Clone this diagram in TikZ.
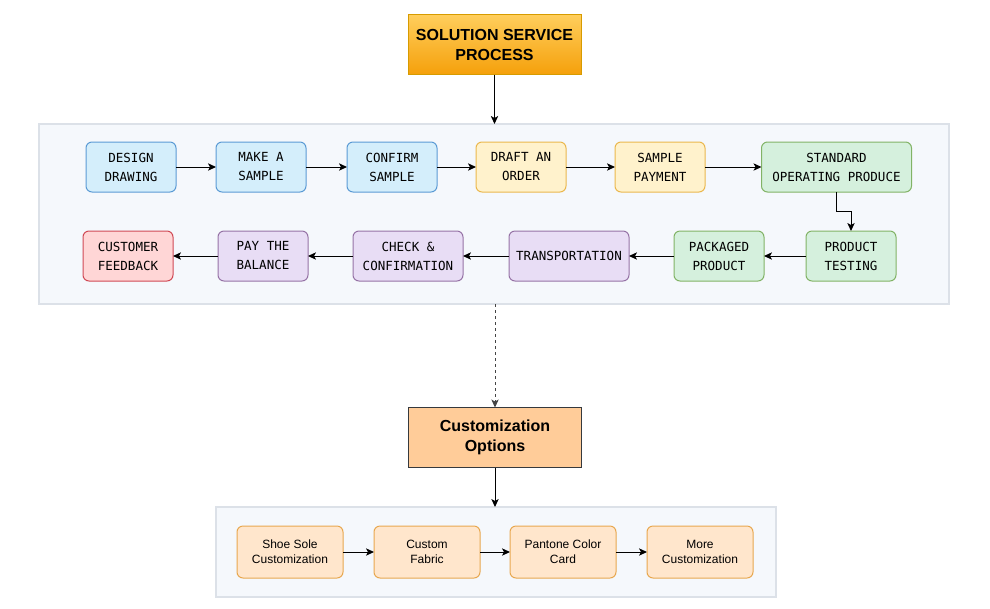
\documentclass[tikz,border=0pt]{standalone}
\usepackage{fontspec}
\setmainfont{Liberation Sans}
\newfontfamily\monof{DejaVu Sans Mono}
\usetikzlibrary{arrows.meta,calc,positioning}
\definecolor{contfill}{HTML}{F5F8FC}
\definecolor{contdraw}{HTML}{DCE1E8}
\definecolor{bluef}{HTML}{D4EEFB}
\definecolor{blued}{HTML}{5B9BD5}
\definecolor{yelf}{HTML}{FFF2CC}
\definecolor{yeld}{HTML}{EBB84E}
\definecolor{grnf}{HTML}{D5F0DD}
\definecolor{grnd}{HTML}{82B366}
\definecolor{purf}{HTML}{E8DDF5}
\definecolor{purd}{HTML}{9673A6}
\definecolor{redf}{HTML}{FFD6D6}
\definecolor{redd}{HTML}{D04A55}
\definecolor{orf}{HTML}{FFE6CC}
\definecolor{ord}{HTML}{E8A850}
\definecolor{custf}{HTML}{FFCC99}
\definecolor{custd}{HTML}{36393D}
\definecolor{titletop}{HTML}{FFCE5C}
\definecolor{titlebot}{HTML}{F5A00B}
\definecolor{titled}{HTML}{D79B00}
\definecolor{dashc}{HTML}{444444}
\tikzset{
  arr/.style={draw=black, line width=0.75pt, -{Stealth[length=6pt,width=5.5pt,inset=1.5pt]}},
  cont/.style={draw=contdraw, fill=contfill, line width=1.2pt, inner sep=0pt, outer sep=0pt},
  stepbox/.style={rounded corners=4.5pt, line width=0.75pt, inner sep=0pt, outer sep=0pt,
    minimum width=67.5pt, minimum height=37.5pt, align=center,
    font=\monof\fontsize{9.4}{14.25}\selectfont},
  bluebox/.style={stepbox, draw=blued, fill=bluef},
  yelbox/.style={stepbox, draw=yeld, fill=yelf},
  grnbox/.style={stepbox, draw=grnd, fill=grnf},
  purbox/.style={stepbox, draw=purd, fill=purf},
  redbox/.style={stepbox, draw=redd, fill=redf},
  optbox/.style={rounded corners=4.5pt, line width=0.75pt, inner sep=0pt, outer sep=0pt,
    draw=ord, fill=orf, minimum width=79.5pt, minimum height=39pt, align=center,
    font=\fontsize{9}{11.25}\selectfont},
  headbox/.style={inner sep=0pt, outer sep=0pt, minimum width=129.75pt, minimum height=45pt,
    align=center, font=\bfseries\fontsize{12}{15}\selectfont, line width=0.75pt},
}
\begin{document}
\begin{tikzpicture}[x=0.75pt,y=-0.75pt]
\useasboundingbox (0,0) rectangle (990,608);
% containers
\node[cont, minimum width=682.5pt, minimum height=135pt] (cont1) at (494,214) {};
\node[cont, minimum width=420pt, minimum height=67.5pt] (cont2) at (496,552) {};
% title
\node[headbox, draw=titled, top color=titletop, bottom color=titlebot] (title) at (494.5,44.5) {SOLUTION SERVICE\\PROCESS};
% row 1
\node[bluebox] (design) at (131,167) {DESIGN\\DRAWING};
\node[bluebox] (make) at (261,167) {MAKE A\\SAMPLE};
\node[bluebox] (confirm) at (392,167) {CONFIRM\\SAMPLE};
\node[yelbox] (draft) at (521,167) {DRAFT AN\\ORDER};
\node[yelbox] (spay) at (660,167) {SAMPLE\\PAYMENT};
\node[grnbox, minimum width=112.5pt] (sop) at (836.5,167) {STANDARD\\OPERATING PRODUCE};
% row 2
\node[redbox] (feedback) at (128,256) {CUSTOMER\\FEEDBACK};
\node[purbox] (pay) at (263,256) {PAY THE\\BALANCE};
\node[purbox, minimum width=82.5pt] (check) at (408,256) {CHECK \&\\CONFIRMATION};
\node[purbox, minimum width=90pt] (transport) at (569,256) {TRANSPORTATION};
\node[grnbox] (packaged) at (719,256) {PACKAGED\\PRODUCT};
\node[grnbox] (testing) at (851,256) {PRODUCT\\TESTING};
% customization
\node[headbox, draw=custd, fill=custf] (custom) at (495,437.5) {Customization\\Options};
\node[optbox] (sole) at (290,552) {Shoe Sole\\Customization};
\node[optbox] (fabric) at (427,552) {Custom\\Fabric};
\node[optbox] (pantone) at (563,552) {Pantone Color\\Card};
\node[optbox] (more) at (700,552) {More\\Customization};
% connectors
\draw[arr] (title.south) -- (title.south |- cont1.north);
\draw[arr] (design) -- (make);
\draw[arr] (make) -- (confirm);
\draw[arr] (confirm) -- (draft);
\draw[arr] (draft) -- (spay);
\draw[arr] (spay) -- (sop);
\coordinate (k) at ($(sop.south)!.5!(testing.north)$);
\draw[arr] (sop.south) -- (sop.south |- k) -| (testing.north);
\draw[arr] (testing) -- (packaged);
\draw[arr] (packaged) -- (transport);
\draw[arr] (transport) -- (check);
\draw[arr] (check) -- (pay);
\draw[arr] (pay) -- (feedback);
\draw[arr, draw=dashc, dash pattern=on 2.5pt off 2pt] (custom.north |- cont1.south) -- (custom.north);
\draw[arr] (custom.south) -- (custom.south |- cont2.north);
\draw[arr] (sole) -- (fabric);
\draw[arr] (fabric) -- (pantone);
\draw[arr] (pantone) -- (more);
\end{tikzpicture}
\end{document}
